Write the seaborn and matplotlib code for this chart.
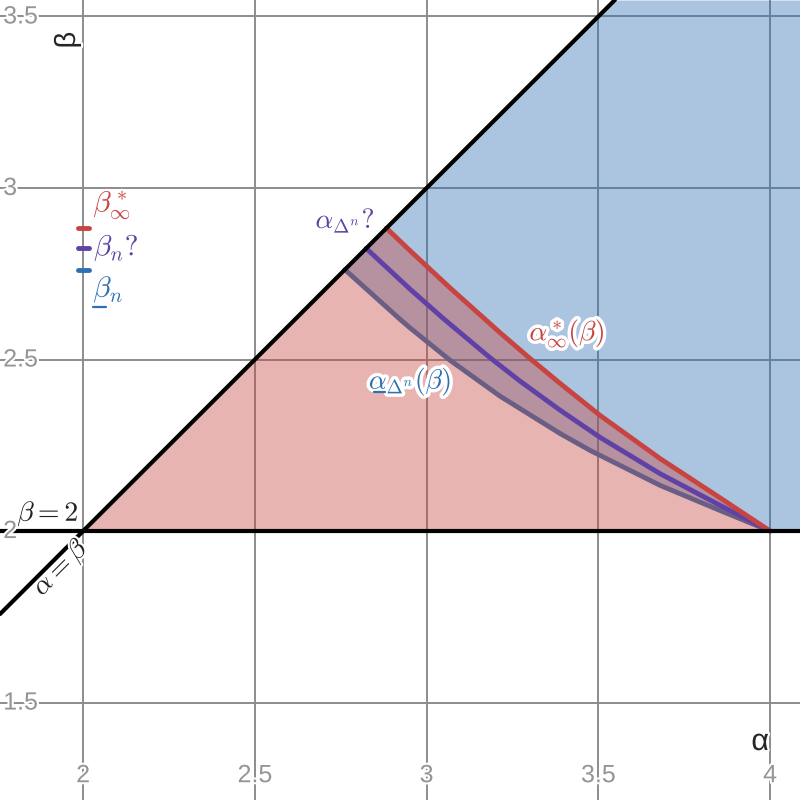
import numpy as np
import pandas as pd
import seaborn as sns
import matplotlib
matplotlib.use('Agg')
import matplotlib.pyplot as plt
import matplotlib.patheffects as pe

# --- data ---
# alpha*_inf(beta)  (red)
red_a = [2.883, 2.952, 3.068, 3.214, 3.301, 3.389, 3.505, 3.680, 3.854, 4.0]
red_b = [2.883, 2.817, 2.709, 2.578, 2.503, 2.430, 2.337, 2.211, 2.097, 2.0]
# alpha_{Delta^n}?  (purple)
pur_a = [2.824, 2.952, 3.048, 3.185, 3.272, 3.389, 3.505, 3.680, 3.854, 4.0]
pur_b = [2.824, 2.705, 2.620, 2.505, 2.437, 2.352, 2.273, 2.167, 2.075, 2.0]
# underline alpha_{Delta^n}(beta)  (blue, under red fill)
low_a = [2.762, 2.923, 2.952, 3.068, 3.214, 3.389, 3.476, 3.680, 3.854, 4.0]
low_b = [2.762, 2.617, 2.592, 2.498, 2.393, 2.284, 2.235, 2.133, 2.060, 2.0]

beta_marks = [2.883, 2.824, 2.762]
tick_vals_x = [2, 2.5, 3, 3.5, 4]
tick_vals_y = [1.5, 2, 2.5, 3, 3.5]

RED, BLUE, PURPLE = '#c74440', '#2d70b3', '#6042a6'

xmin, xmax = 1.758, 4.087
ymin, ymax = 1.216, 3.548

sns.set_style('white')
plt.rcParams['mathtext.fontset'] = 'cm'

fig = plt.figure(figsize=(8, 8), dpi=100)
ax = fig.add_axes([0, 0, 1, 1])
ax.set_xlim(xmin, xmax)
ax.set_ylim(ymin, ymax)
ax.axis('off')

# grid
for v in tick_vals_x:
    ax.axvline(v, color='#8c8c8c', lw=1.4, zorder=1)
for v in tick_vals_y:
    ax.axhline(v, color='#8c8c8c', lw=1.4, zorder=1)

# blue region: right of lower curve, under alpha=beta, above beta=2
bl_b = np.concatenate([low_b[::-1], [ymax]])
bl_a = np.concatenate([low_a[::-1], [ymax]])
ax.fill_betweenx(bl_b, bl_a, xmax, color=BLUE, alpha=0.4, lw=0, zorder=2)

df_low = pd.DataFrame({'a': low_a, 'b': low_b})
sns.lineplot(data=df_low, x='a', y='b', sort=False, color=BLUE, lw=3.5, ax=ax,
             zorder=3, solid_joinstyle='round')

# red region: triangle left of red curve
rb = np.array(red_b[::-1])
ra = np.array(red_a[::-1])
ax.fill_betweenx(rb, rb, ra, color=RED, alpha=0.4, lw=0, zorder=4)

df_pur = pd.DataFrame({'a': pur_a, 'b': pur_b})
df_red = pd.DataFrame({'a': red_a, 'b': red_b})
sns.lineplot(data=df_pur, x='a', y='b', sort=False, color=PURPLE, lw=3.5, ax=ax,
             zorder=5, solid_joinstyle='round')
sns.lineplot(data=df_red, x='a', y='b', sort=False, color=RED, lw=3.5, ax=ax,
             zorder=5, solid_joinstyle='round')

# black boundary lines
ax.axhline(2, color='black', lw=3, zorder=6)
ax.axline((2, 2), slope=1, color='black', lw=3, zorder=6)

# small marks on the left
ax.hlines(beta_marks, 1.986, 2.017, colors=[RED, PURPLE, BLUE], lw=3.5,
          capstyle='round', zorder=7)

# tick labels
halo = [pe.withStroke(linewidth=3, foreground='white')]
fmt = lambda v: ('%g' % v)
for v in tick_vals_x:
    ax.text(v, 0.031, fmt(v), transform=ax.get_xaxis_transform(), ha='center',
            va='center', fontsize=18, color='#959595', family='Liberation Sans',
            path_effects=halo, zorder=8)
for v in tick_vals_y:
    ax.text(0.004, v, fmt(v), transform=ax.get_yaxis_transform(), ha='left',
            va='center', fontsize=18, color='#959595', family='Liberation Sans',
            path_effects=halo, zorder=8)

# axis names
ax.text(1.953, 3.431, 'β', rotation=90, fontsize=21, ha='center', va='center',
        family='Liberation Sans', path_effects=halo, zorder=9)
ax.text(3.971, 1.385, 'α', fontsize=22, ha='center', va='center',
        family='Liberation Sans', path_effects=halo, zorder=9)

# curve labels
ax.text(1.898, 2.050, r'$\beta=2$', fontsize=20, ha='center', va='center',
        color='#222222', path_effects=halo, zorder=9)
ax.text(1.936, 1.892, r'$\alpha=\beta$', fontsize=20, ha='center', va='center',
        rotation=45, color='#222222', path_effects=halo, zorder=9)
ax.text(2.030, 2.950, r'$\beta^*_\infty$', fontsize=21, ha='left', va='center',
        color=RED, path_effects=halo, zorder=9)
ax.text(2.032, 2.825, r'$\beta_n?$', fontsize=21, ha='left', va='center',
        color=PURPLE, path_effects=halo, zorder=9)
ax.text(2.030, 2.703, r'$\beta_n$', fontsize=21, ha='left', va='center',
        color=BLUE, path_effects=halo, zorder=9)
ax.plot([2.030, 2.068], [2.654, 2.654], color=BLUE, lw=1.6, zorder=9)
ax.text(2.763, 2.907, r'$\alpha_{\Delta^n}?$', fontsize=20, ha='center', va='center',
        color=PURPLE, path_effects=halo, zorder=9)
ax.text(3.409, 2.577, r'$\alpha^*_\infty(\beta)$', fontsize=20, ha='center', va='center',
        color=RED, path_effects=[pe.withStroke(linewidth=5, foreground='white')], zorder=9)
ax.text(2.952, 2.437, r'$\alpha_{\Delta^n}(\beta)$', fontsize=20, ha='center', va='center',
        color=BLUE, path_effects=[pe.withStroke(linewidth=5, foreground='white')], zorder=9)
ax.plot([2.846, 2.878], [2.406, 2.406], color=BLUE, lw=1.6, zorder=10)

fig.savefig('out.png', dpi=100)
